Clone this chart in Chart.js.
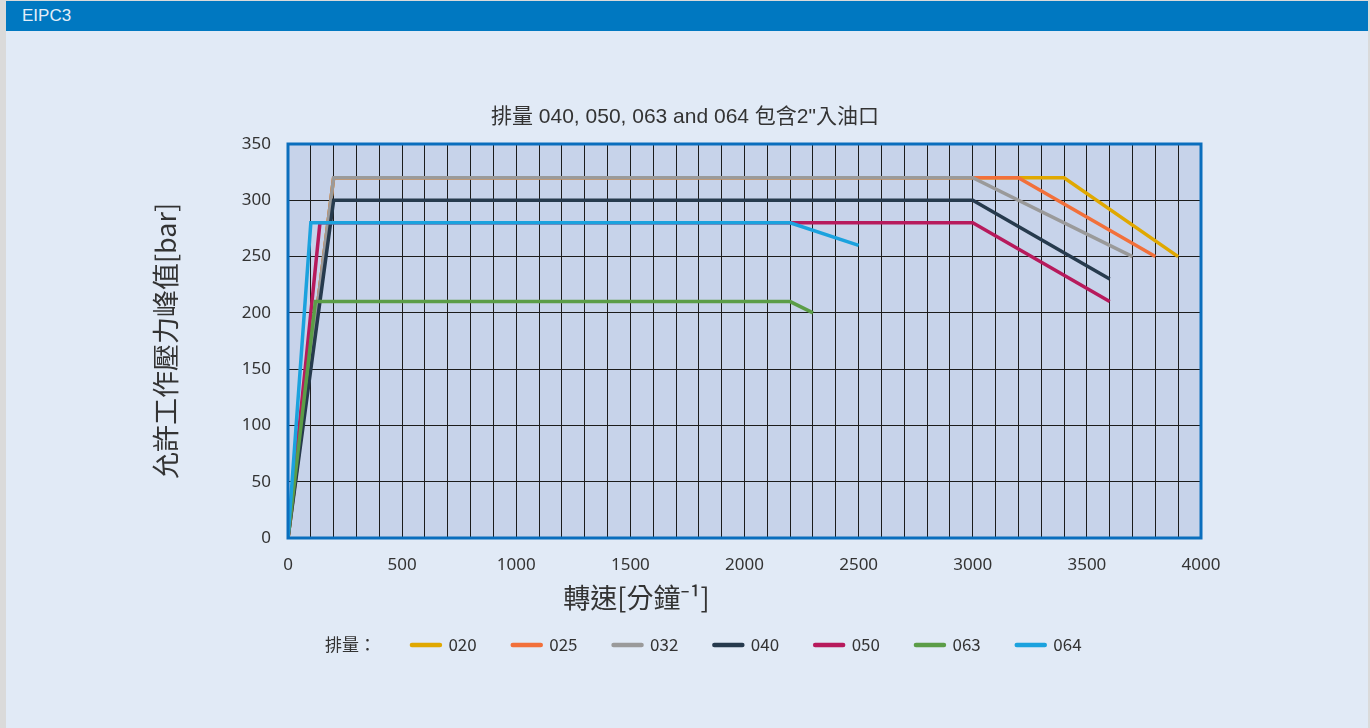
<!DOCTYPE html>
<html>
<head>
<meta charset="utf-8">
<script src="https://cdn.jsdelivr.net/npm/chart.js@4"></script>
<style>
  body { margin: 0; background: #dadada; width: 1370px; height: 728px; overflow: hidden; position: relative; }
  #panel { position: absolute; left: 6px; top: 1px; width: 1362px; height: 727px; background: #e1eaf6; }
  #bar { position: absolute; left: 6px; top: 1px; width: 1362px; height: 30px; background: #0078c1; }
  #bar span { position: absolute; left: 16px; top: 5px; color: #e4eef8; font: 300 17px 'Liberation Sans', sans-serif; }
  #chart { position: absolute; left: 0; top: 0; }
</style>
</head>
<body>
<div id="panel"></div>
<div id="bar"><span>EIPC3</span></div>
<canvas id="chart" width="1370" height="728"></canvas>
<script>
const series = ['020', '025', '032', '040', '050', '063', '064']
const colors = ['#e0a800', '#f2703a', '#9a9a9a', '#263a4d', '#b71a5c', '#5b9d47', '#1ba2de']

// speed [1/min] and pressure [bar] for each displacement
const speed020 = [0, 200, 3400, 3900]
const press020 = [0, 320, 320, 250]
const speed025 = [0, 200, 3200, 3800]
const press025 = [0, 320, 320, 250]
const speed032 = [0, 200, 3000, 3700]
const press032 = [0, 320, 320, 250]
const speed040 = [0, 200, 3000, 3600]
const press040 = [0, 300, 300, 230]
const speed050 = [0, 140, 3000, 3600]
const press050 = [0, 280, 280, 210]
const speed063 = [0, 120, 2200, 2300]
const press063 = [0, 210, 210, 200]
const speed064 = [0, 100, 2200, 2500]
const press064 = [0, 280, 280, 260]

const speeds = [speed020, speed025, speed032, speed040, speed050, speed063, speed064]
const pressures = [press020, press025, press032, press040, press050, press063, press064]

const titleText = '排量 040, 050, 063 and 064 包含2"入油口'
// trailing ideographic spaces push the axis title left of the plot centre, like the original
const xTitle = '轉速[分鐘⁻¹]' + '\u3000'.repeat(8)
const yTitle = '允許工作壓力峰值[bar]'
const legendPrefix = '排量：'

const cjk = "'Noto Sans CJK TC', 'Noto Sans', sans-serif"

var datasets = []
series.forEach((name, i) => {
    datasets.push({
        label: name,
        data: speeds[i].map((s, k) => ({ x: s, y: pressures[i][k] })),
        borderColor: colors[i],
        backgroundColor: colors[i],
        borderWidth: 3.5,
        borderJoinStyle: 'miter',
        pointRadius: 0,
        tension: 0,
        fill: false,
        order: series.length - 1 - i
    })
})

const plotFrame = {
    id: 'plotFrame',
    beforeDraw(chart) {
        const a = chart.chartArea
        const ctx = chart.ctx
        ctx.save()
        ctx.fillStyle = '#c7d3ea'
        ctx.fillRect(a.left, a.top, a.right - a.left, a.bottom - a.top)
        ctx.restore()
    },
    afterDraw(chart) {
        const a = chart.chartArea
        const ctx = chart.ctx
        ctx.save()
        ctx.strokeStyle = '#0a6ebd'
        ctx.lineWidth = 3
        ctx.strokeRect(a.left, a.top, a.right - a.left, a.bottom - a.top)
        ctx.restore()
    }
}

new Chart(document.getElementById('chart'), {
    type: 'line',
    data: { datasets: datasets },
    options: {
        responsive: false,
        animation: false,
        devicePixelRatio: 1,
        layout: { padding: { top: 0, left: 0, right: 0, bottom: 64.5 } },
        plugins: {
            title: {
                display: true,
                text: titleText,
                color: '#333',
                font: { family: "'Liberation Sans', " + cjk, size: 21, weight: 'normal' },
                padding: { top: 104.4, bottom: 14.4 }
            },
            legend: {
                position: 'bottom',
                onClick: function() {},
                labels: {
                    color: '#333',
                    font: { family: cjk, size: 17 },
                    usePointStyle: true,
                    pointStyleWidth: 28,
                    padding: 36,
                    generateLabels: function(chart) {
                        var items = Chart.defaults.plugins.legend.labels.generateLabels(chart)
                        items.sort((a, b) => a.datasetIndex - b.datasetIndex)
                        items.forEach(it => {
                            it.pointStyle = 'line'
                            it.lineWidth = 4.5
                            it.lineCap = 'round'
                            it.strokeStyle = colors[it.datasetIndex]
                        })
                        items.unshift({
                            text: legendPrefix,
                            fillStyle: 'rgba(0,0,0,0)',
                            strokeStyle: 'rgba(0,0,0,0)',
                            lineWidth: 0,
                            pointStyle: 'line',
                            hidden: false,
                            fontColor: '#333'
                        })
                        return items
                    }
                }
            },
            tooltip: { enabled: false }
        },
        scales: {
            x: {
                type: 'linear',
                min: 0,
                max: 4000,
                afterFit: s => { s.height = 62.5 },
                border: { display: false },
                grid: { color: '#1c1c1c', lineWidth: 1, drawTicks: false },
                ticks: {
                    stepSize: 100,
                    autoSkip: false,
                    maxRotation: 0,
                    padding: 17,
                    color: '#333',
                    font: { family: "'Noto Sans', sans-serif", size: 17 },
                    callback: v => (v % 500 === 0 ? v : '')
                },
                title: {
                    display: true,
                    text: xTitle,
                    color: '#333',
                    font: { family: cjk, size: 27 },
                    padding: { top: 0, bottom: -13.7 }
                }
            },
            y: {
                min: 0,
                max: 350,
                afterFit: s => { s.width = 288 },
                border: { display: false },
                grid: { color: '#1c1c1c', lineWidth: 1, drawTicks: false },
                ticks: {
                    stepSize: 50,
                    padding: 17,
                    color: '#333',
                    font: { family: "'Noto Sans', sans-serif", size: 17 }
                },
                title: {
                    display: true,
                    text: yTitle,
                    color: '#333',
                    font: { family: cjk, size: 27 },
                    padding: { top: 150, bottom: 0 }
                }
            },
            y2: {
                type: 'linear',
                position: 'right',
                display: true,
                afterFit: s => { s.width = 169 },
                border: { display: false },
                grid: { display: false },
                ticks: { display: false }
            }
        }
    },
    plugins: [plotFrame]
});
</script>
</body>
</html>
